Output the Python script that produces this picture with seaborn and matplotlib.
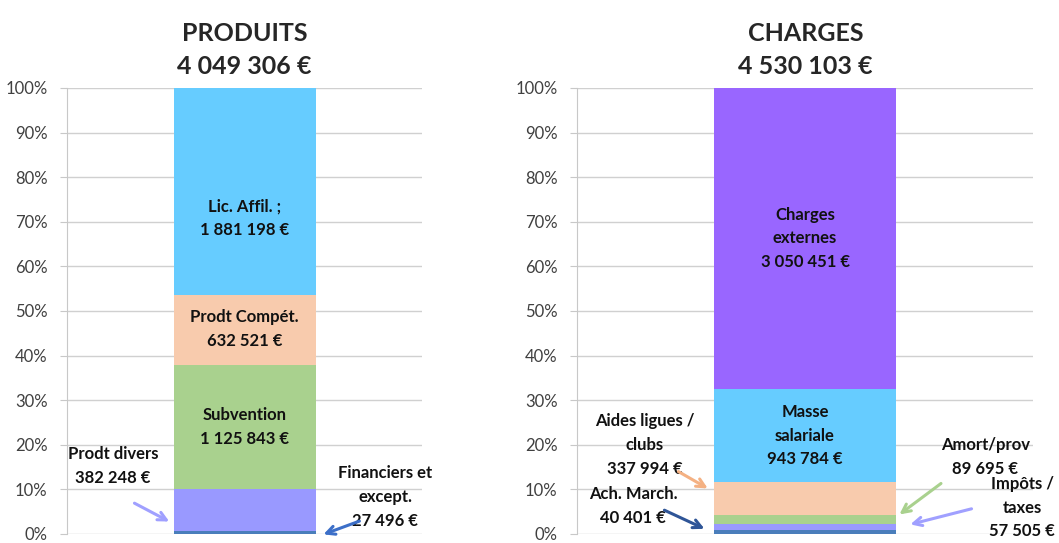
import matplotlib
matplotlib.use('Agg')
import matplotlib.pyplot as plt
import seaborn as sns
import numpy as np
import pandas as pd

sns.set_style('white')
plt.rcParams['font.family'] = ['Lato', 'DejaVu Sans']

# ---- données ----
produits_noms = ['Financiers et\nexcept.', 'Prodt divers', 'Subvention', 'Prodt Compét.', 'Lic. Affil. ;']
produits_vals = [27496, 382248, 1125843, 632521, 1881198]
produits_total = '4 049 306 €'

charges_noms = ['Ach. March.', 'Impôts /\ntaxes', 'Amort/prov', 'Aides ligues /\nclubs',
                'Masse\nsalariale', 'Charges\nexternes']
charges_vals = [40401, 57505, 89695, 337994, 943784, 3050451]
charges_total = '4 530 103 €'

# couleurs (de bas en haut)
produits_couleurs = ['#4A7EBB', '#9999FF', '#A9D18E', '#F8CBAD', '#66CCFF']
charges_couleurs = ['#4A7EBB', '#9999FF', '#A9D18E', '#F8CBAD', '#66CCFF', '#9966FF']


def fmt_euro(v):
    return f'{v:,}'.replace(',', ' ') + ' €'


def barre_empilee(ax, vals, couleurs):
    pct = np.array(vals) / np.sum(vals) * 100
    cum = np.cumsum(pct)
    # on trace du haut vers le bas pour superposer les segments
    for i in range(len(vals) - 1, -1, -1):
        df = pd.DataFrame({'cat': [''], 'pct': [cum[i]]})
        sns.barplot(data=df, x='cat', y='pct', color=couleurs[i], saturation=1,
                    width=0.4, ax=ax, linewidth=0, errorbar=None)
    return pct, cum


def style_axe(ax):
    ax.set_xlim(-0.5, 0.5)
    ax.set_ylim(0, 100)
    ax.set_yticks(np.arange(0, 101, 10))
    ax.set_yticklabels([f'{t}%' for t in range(0, 101, 10)], fontsize=12, color='#404040')
    ax.set_xticks([])
    ax.set_xlabel('')
    ax.set_ylabel('')
    ax.grid(axis='y', color='#D0D0D0', linewidth=1)
    ax.set_axisbelow(True)
    for s in ['top', 'right', 'bottom']:
        ax.spines[s].set_visible(False)
    ax.spines['left'].set_color('#C8C8C8')
    ax.tick_params(axis='y', length=5, color='#C8C8C8', left=True, pad=9)


def fleche(ax, tip, tail, couleur):
    ax.annotate('', xy=tip, xytext=tail, annotation_clip=False,
                arrowprops=dict(arrowstyle='->,head_length=0.6,head_width=0.3',
                                color=couleur, lw=2.2))


fig = plt.figure(figsize=(10.59, 5.43), dpi=100)
ax1 = fig.add_axes([0.0633, 0.0166, 0.3352, 0.8214])
ax2 = fig.add_axes([0.5449, 0.0166, 0.4306, 0.8214])

lab = dict(fontsize=12, fontweight='bold', ha='center', va='center', linespacing=1.6,
           clip_on=False, color='#111111')

# ---- PRODUITS ----
pct, cum = barre_empilee(ax1, produits_vals, produits_couleurs)
style_axe(ax1)
# étiquettes internes
for i, y in zip([2, 3, 4], [24.0, 46.0, 70.8]):
    ax1.text(0, y, f'{produits_noms[i]}\n{fmt_euro(produits_vals[i])}', **lab)
# étiquettes externes avec flèches
ax1.text(-0.37, 15.2, f'{produits_noms[1]}\n{fmt_euro(produits_vals[1])}', **lab)
fleche(ax1, (-0.205, 2.5), (-0.317, 7.2), '#A0A0FF')
ax1.text(0.396, 8.3, f'{produits_noms[0]}\n{fmt_euro(produits_vals[0])}', **lab)
fleche(ax1, (0.215, -0.3), (0.331, 3.1), '#3C6FC8')
fig.text(0.2309, 0.908, f'PRODUITS\n{produits_total}', fontsize=18, fontweight='bold',
         ha='center', va='center', linespacing=1.5)

# ---- CHARGES ----
pct, cum = barre_empilee(ax2, charges_vals, charges_couleurs)
style_axe(ax2)
for i in [4, 5]:
    ax2.text(0, cum[i] - pct[i] / 2, f'{charges_noms[i]}\n{fmt_euro(charges_vals[i])}', **lab)
ax2.text(-0.351, 20.0, f'{charges_noms[3]}\n{fmt_euro(charges_vals[3])}', **lab)
fleche(ax2, (-0.208, 9.9), (-0.283, 14.3), '#F4B183')
ax2.text(-0.377, 6.3, f'{charges_noms[0]}\n{fmt_euro(charges_vals[0])}', **lab)
fleche(ax2, (-0.215, 0.9), (-0.314, 5.6), '#2F5597')
ax2.text(0.395, 17.3, f'{charges_noms[2]}\n{fmt_euro(charges_vals[2])}', **lab)
fleche(ax2, (0.202, 4.0), (0.303, 11.7), '#A9D18E')
ax2.text(0.476, 5.9, f'{charges_noms[1]}\n{fmt_euro(charges_vals[1])}', **lab)
fleche(ax2, (0.225, 2.0), (0.371, 5.8), '#A0A0FF')
fig.text(0.7606, 0.908, f'CHARGES\n{charges_total}', fontsize=18, fontweight='bold',
         ha='center', va='center', linespacing=1.5)

fig.savefig('out.png', dpi=100)
